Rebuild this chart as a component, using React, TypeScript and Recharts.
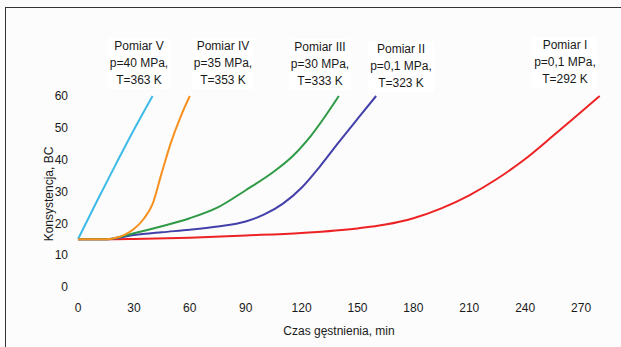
import { Line, LineChart, XAxis, YAxis } from 'recharts';

// czas (min) i konsystencja (BC) dla każdego pomiaru
const minI = [0, 15, 30, 60, 90, 120, 150, 165, 180, 195, 210, 225, 240, 255, 270, 280];
const bcI = [15, 15, 15.1, 15.5, 16.2, 17, 18.4, 19.6, 21.6, 24.7, 28.8, 34, 40.2, 47.5, 55, 60];

const minII = [0, 15, 30, 45, 60, 75, 90, 100, 110, 120, 130, 140, 150, 160];
const bcII = [15, 15, 16.3, 17.2, 18, 19, 20.6, 22.8, 26.2, 31.2, 38, 45.5, 52.8, 60];

const minIII = [0, 15, 30, 45, 60, 75, 90, 105, 115, 125, 140];
const bcIII = [15, 15, 16.9, 19.1, 21.6, 25, 30.4, 36.2, 41, 47.5, 60];

const minIV = [0, 15, 20, 25, 30, 35, 40, 45, 50, 55, 60];
const bcIV = [15, 15, 15.4, 16.4, 18.2, 21.2, 26, 36, 45.6, 53.4, 60];

const minV = [0, 10, 20, 30, 40];
const bcV = [15, 26.8, 38.2, 49.4, 60];

const xTicks = [0, 30, 60, 90, 120, 150, 180, 210, 240, 270];
const yTicks = [0, 10, 20, 30, 40, 50, 60];

const notes = [
  { lines: ['Pomiar V', 'p=40 MPa,', 'T=363 K'], x: 139, y: 38 },
  { lines: ['Pomiar IV', 'p=35 MPa,', 'T=353 K'], x: 223, y: 38 },
  { lines: ['Pomiar III', 'p=30 MPa,', 'T=333 K'], x: 320, y: 39 },
  { lines: ['Pomiar II', 'p=0,1 MPa,', 'T=323 K'], x: 401, y: 41 },
  { lines: ['Pomiar I', 'p=0,1 MPa,', 'T=292 K'], x: 565, y: 37 },
];

const toPoints = (xs: number[], ys: number[]) => xs.map((t, i) => ({ t, bc: ys[i] }));

const series = [
  { key: 'I', data: toPoints(minI, bcI), color: '#ed2224' },
  { key: 'II', data: toPoints(minII, bcII), color: '#4340aa' },
  { key: 'III', data: toPoints(minIII, bcIII), color: '#2f9a46' },
  { key: 'V', data: toPoints(minV, bcV), color: '#3cbbe8' },
  { key: 'IV', data: toPoints(minIV, bcIV), color: '#f7901e' },
];

const font = '"Liberation Sans", Arial, sans-serif';
const tickStyle = { fill: '#1a1a1a', fontSize: 12, fontFamily: font };

export default function App() {
  return (
    <div
      style={{
        position: 'absolute',
        left: 0,
        top: 0,
        width: 621,
        height: 347,
        background: '#fcfcfc',
        fontFamily: font,
        overflow: 'hidden',
      }}
    >
      {/* ramka wykresu, prawa i dolna krawędź poza kadrem */}
      <div
        style={{
          position: 'absolute',
          left: 5,
          top: 7,
          width: 640,
          height: 360,
          borderLeft: '1.5px solid #333',
          borderTop: '1.5px solid #333',
        }}
      />
      <LineChart width={621} height={347} margin={{ top: 96, right: 12, bottom: 30, left: 38 }}>
        <XAxis
          type="number"
          dataKey="t"
          domain={[0, 285]}
          ticks={xTicks}
          axisLine={false}
          tickLine={false}
          tickMargin={10}
          tick={tickStyle}
          height={30}
          allowDuplicatedCategory={false}
        />
        <YAxis
          type="number"
          domain={[0, 60]}
          ticks={yTicks}
          axisLine={false}
          tickLine={false}
          tickMargin={4}
          tick={tickStyle}
          width={40}
        />
        {series.map((s) => (
          <Line
            key={s.key}
            data={s.data}
            dataKey="bc"
            type="monotone"
            stroke={s.color}
            strokeWidth={2}
            dot={false}
            isAnimationActive={false}
          />
        ))}
      </LineChart>

      {notes.map((n) => (
        <div
          key={n.lines[0]}
          style={{
            position: 'absolute',
            left: n.x,
            top: n.y,
            transform: 'translateX(-50%)',
            textAlign: 'center',
            fontSize: 12,
            lineHeight: '17px',
            color: '#1a1a1a',
            background: '#fff',
            padding: '0 2px',
            whiteSpace: 'nowrap',
          }}
        >
          {n.lines.map((l) => (
            <div key={l}>{l}</div>
          ))}
        </div>
      ))}

      <div
        style={{
          position: 'absolute',
          left: 49,
          top: 194,
          transform: 'translate(-50%, -50%) rotate(-90deg)',
          fontSize: 12,
          color: '#1a1a1a',
          whiteSpace: 'nowrap',
        }}
      >
        Konsystencja, BC
      </div>
      <div
        style={{
          position: 'absolute',
          left: 339,
          top: 331,
          transform: 'translate(-50%, -50%)',
          fontSize: 12,
          color: '#1a1a1a',
          whiteSpace: 'nowrap',
        }}
      >
        Czas gęstnienia, min
      </div>
    </div>
  );
}
